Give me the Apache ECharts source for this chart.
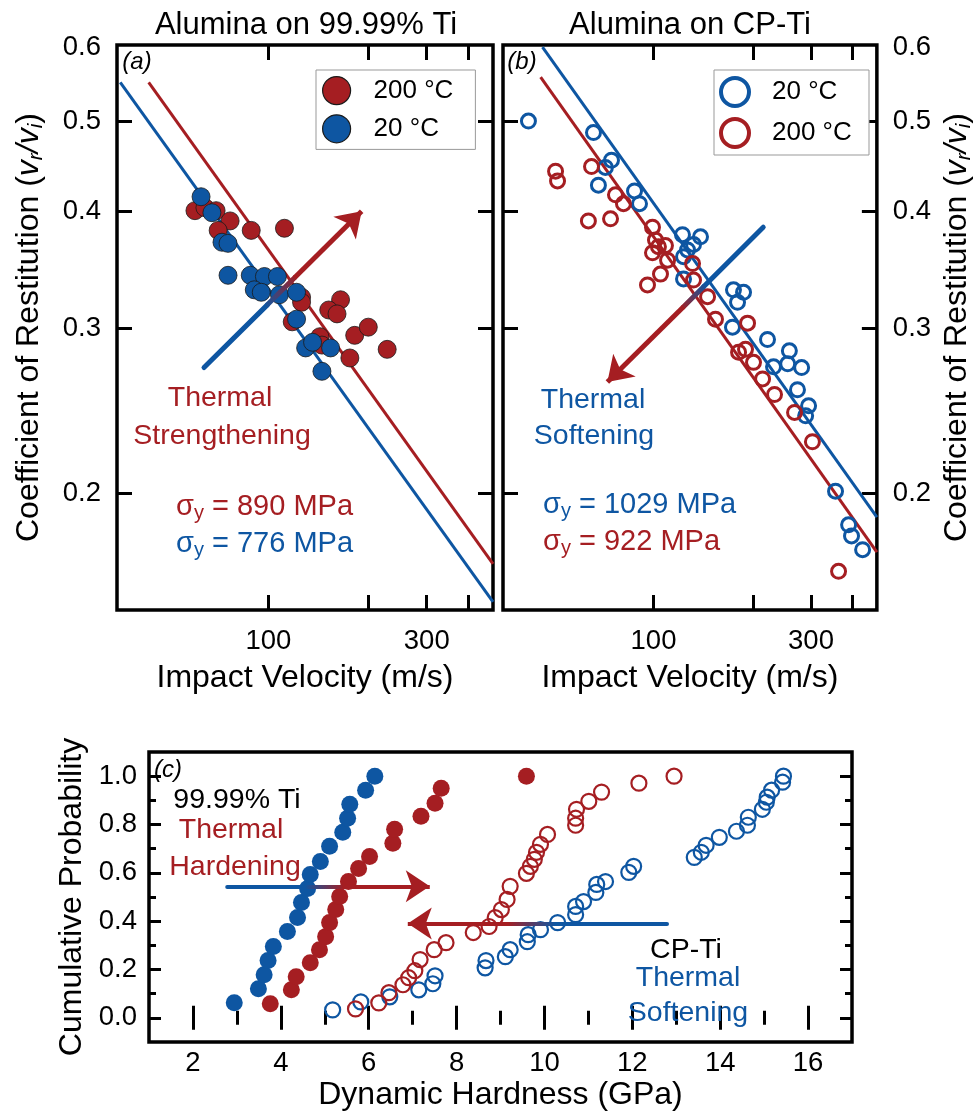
<!DOCTYPE html>
<html>
<head>
<meta charset="utf-8">
<script src="https://cdn.jsdelivr.net/npm/echarts@6.0.0/dist/echarts.min.js"></script>
<style>
  html, body { margin: 0; padding: 0; background: #fff; }
  #chart { width: 976px; height: 1114px; }
</style>
</head>
<body>
<div id="chart"></div>
<script>
const RED = '#A51E22';
const BLUE = '#0E56A2';
const FONT = '"Liberation Sans", Arial, Helvetica, sans-serif';

// (a) alumina on 99.99% Ti, filled markers
const tiVel200 = [60.1, 64.4, 69.6, 76.7, 70.6, 88.8, 111.8, 125.9, 125.9, 165, 152, 161, 118, 143, 145, 182, 200, 176, 228];
const tiCor200 = [0.401, 0.404, 0.401, 0.391, 0.382, 0.382, 0.384, 0.324, 0.320, 0.322, 0.314, 0.311, 0.305, 0.294, 0.288, 0.295, 0.301, 0.279, 0.285];
const tiVel20 = [62.7, 67.6, 72.5, 75.6, 75.6, 88.2, 97.3, 106.5, 90.7, 95.2, 108, 121.6, 121.6, 129.5, 135.9, 154, 145];
const tiCor20 = [0.415, 0.399, 0.371, 0.370, 0.342, 0.342, 0.341, 0.341, 0.330, 0.328, 0.326, 0.328, 0.307, 0.286, 0.290, 0.286, 0.270];
// fitted lines (end points)
const tiFit20Vel = [35.8, 475];
const tiFit20Cor = [0.55, 0.153];
const tiFit200Vel = [43.6, 475];
const tiFit200Cor = [0.55, 0.168];

// (b) alumina on CP-Ti, open markers
const cpVel20 = [41.8, 65.8, 74.6, 71.5, 68.1, 87.6, 90.7, 122.4, 138.8, 132.2, 126.8, 123.3, 123.3, 174.7, 187.4, 179.7, 173.5, 221.5, 258, 231, 255, 281, 273, 295, 289, 356, 390, 398, 430];
const cpCor20 = [0.5, 0.486, 0.454, 0.446, 0.427, 0.421, 0.408, 0.378, 0.376, 0.369, 0.364, 0.358, 0.339, 0.330, 0.328, 0.320, 0.301, 0.292, 0.284, 0.273, 0.275, 0.2725, 0.258, 0.248, 0.242, 0.201, 0.185, 0.180, 0.174];
const cpVel200 = [50.5, 51.2, 64.9, 63.5, 74.1, 76.7, 81.1, 99.3, 101.4, 99.3, 103.5, 108.7, 110.3, 105, 95.9, 131.3, 132.2, 145.8, 154.1, 192.7, 181, 190, 200.9, 214, 232.6, 267.5, 303, 363.6];
const cpCor200 = [0.442, 0.4315, 0.447, 0.391, 0.393, 0.417, 0.408, 0.385, 0.373, 0.3615, 0.367, 0.368, 0.355, 0.343, 0.334, 0.352, 0.338, 0.3245, 0.307, 0.304, 0.283, 0.285, 0.276, 0.265, 0.255, 0.244, 0.227, 0.165];
const cpFit20Vel = [46.1, 475];
const cpFit20Cor = [0.600, 0.1885];
const cpFit200Vel = [45.5, 475];
const cpFit200Cor = [0.557, 0.173];

// (c) cumulative probability of dynamic hardness
const hardTi20 = [2.94, 3.49, 3.62, 3.71, 3.83, 4.15, 4.38, 4.47, 4.61, 4.67, 4.90, 5.11, 5.41, 5.52, 5.57, 5.93, 6.14];
const probTi20 = [0.062, 0.120, 0.178, 0.237, 0.295, 0.357, 0.415, 0.477, 0.535, 0.593, 0.647, 0.710, 0.768, 0.826, 0.884, 0.942, 1.0];
const hardTi200 = [3.76, 4.24, 4.35, 4.67, 4.88, 5.02, 5.11, 5.25, 5.34, 5.54, 5.77, 6.02, 6.55, 6.59, 7.19, 7.51, 7.65, 9.59];
const probTi200 = [0.058, 0.116, 0.170, 0.228, 0.282, 0.336, 0.394, 0.448, 0.502, 0.564, 0.618, 0.668, 0.722, 0.780, 0.834, 0.888, 0.950, 1.0];
const hardCp20 = [5.18, 5.82, 6.48, 7.14, 7.46, 7.51, 8.65, 8.67, 9.11, 9.22, 9.61, 9.63, 9.91, 10.30, 10.71, 10.71, 10.89, 11.17, 11.19, 11.39, 11.92, 12.03, 13.41, 13.57, 13.68, 13.98, 14.37, 14.62, 14.64, 14.96, 15.05, 15.07, 15.17, 15.42, 15.44];
const probCp20 = [0.033, 0.066, 0.087, 0.116, 0.141, 0.174, 0.207, 0.237, 0.253, 0.282, 0.315, 0.344, 0.365, 0.394, 0.427, 0.461, 0.481, 0.519, 0.552, 0.564, 0.602, 0.627, 0.664, 0.685, 0.714, 0.747, 0.772, 0.797, 0.830, 0.863, 0.892, 0.913, 0.942, 0.975, 1.0];
const hardCp200 = [5.70, 6.23, 6.46, 6.78, 6.91, 7.05, 7.17, 7.49, 7.76, 8.38, 8.74, 8.88, 9.02, 9.15, 9.22, 9.59, 9.68, 9.77, 9.82, 9.91, 10.07, 10.71, 10.71, 10.73, 11.01, 11.30, 12.15, 12.95];
const probCp200 = [0.037, 0.062, 0.104, 0.137, 0.166, 0.195, 0.241, 0.282, 0.311, 0.353, 0.378, 0.415, 0.448, 0.490, 0.544, 0.598, 0.627, 0.656, 0.685, 0.718, 0.759, 0.797, 0.826, 0.863, 0.896, 0.934, 0.971, 1.0];

// annotation arrows: start (blue), blend start, blend end, tip (red)
const arrowA = [[64.0, 0.2725], [99.3, 0.318], [119.9, 0.340], [191, 0.4005]];
const arrowB = [[215, 0.385], [141.8, 0.3325], [123.3, 0.3165], [72.5, 0.263]];
const arrowC1 = [[2.78, 0.544], [4.6, 0.544], [5.4, 0.544], [7.39, 0.544]];
const arrowC2 = [[12.79, 0.39], [10.2, 0.39], [9.2, 0.39], [6.89, 0.39]];

// ticks
const velTicks = [100, 200, 300, 400];
const velLabels = [100, 300];
const corTicks = [0.2, 0.3, 0.4, 0.5];
const corLabels = [0.2, 0.3, 0.4, 0.5, 0.6];
const hardTicks = [2, 4, 6, 8, 10, 12, 14, 16];
const hardMinor = [3, 5, 7, 9, 11, 13, 15];
const probTicks = [0, 0.2, 0.4, 0.6, 0.8, 1.0];
const probMinor = [0.1, 0.3, 0.5, 0.7, 0.9];

const pairs = (xs, ys) => xs.map((x, i) => [x, ys[i]]);

const frame = { show: true, borderColor: '#000', borderWidth: 3.5, backgroundColor: 'transparent' };

const labelStyle = { color: '#000', fontSize: 27.5, fontFamily: FONT };
const nameStyle = { color: '#000', fontSize: 32, fontFamily: FONT };

const corName = '{n|Coefficient of Restitution (}{i|v}{s|r}{i|/v}{s|i}{n|)}';
const corRich = {
    n: { fontSize: 32, fontFamily: FONT, color: '#000', verticalAlign: 'top', lineHeight: 34 },
    i: { fontSize: 32, fontFamily: FONT, color: '#000', fontStyle: 'italic', verticalAlign: 'top', lineHeight: 34 },
    s: { fontSize: 21, fontFamily: FONT, color: '#000', fontStyle: 'italic', verticalAlign: 'bottom', lineHeight: 21, padding: [19, 0, 0, 0] }
};

// one axis; labels/name only where given
function axis(base, tickValues, tickLen, labels) {
    const a = Object.assign({
        axisLine: { show: false },
        splitLine: { show: false },
        axisTick: {
            show: true, inside: true, length: tickLen, customValues: tickValues,
            lineStyle: { color: '#000', width: 3 }
        },
        axisLabel: { show: false }
    }, base);
    if (labels) {
        a.axisLabel = Object.assign({ show: true, customValues: labels.values, margin: labels.margin }, labelStyle,
            { formatter: labels.fmt });
    }
    return a;
}

const velRange = { type: 'log', logBase: 10, min: 35, max: 475 };
const corRange = { type: 'log', logBase: 10, min: 0.15, max: 0.603 };
const hardRange = { type: 'value', min: 1, max: 17 };
const probRange = { type: 'value', min: -0.1, max: 1.1 };

const velFmt = v => String(Math.round(v));
const oneDec = v => Number(v).toFixed(1);

const xAxes = [
    axis(Object.assign({ gridIndex: 0, position: 'bottom', name: 'Impact Velocity (m/s)', nameLocation: 'middle',
        nameGap: 52, nameTextStyle: nameStyle }, velRange), velTicks, 15, { values: velLabels, margin: 17, fmt: velFmt }),
    axis(Object.assign({ gridIndex: 0, position: 'top' }, velRange), velTicks, 15),
    axis(Object.assign({ gridIndex: 1, position: 'bottom', name: 'Impact Velocity (m/s)', nameLocation: 'middle',
        nameGap: 52, nameTextStyle: nameStyle }, velRange), velTicks, 15, { values: velLabels, margin: 17, fmt: velFmt }),
    axis(Object.assign({ gridIndex: 1, position: 'top' }, velRange), velTicks, 15),
    axis(Object.assign({ gridIndex: 2, position: 'bottom', name: 'Dynamic Hardness (GPa)', nameLocation: 'middle',
        nameGap: 37, nameTextStyle: nameStyle }, hardRange), hardTicks, 12, { values: hardTicks, margin: 7, fmt: v => String(v) }),
    axis(Object.assign({ gridIndex: 2, position: 'top' }, hardRange), hardTicks, 12),
    axis(Object.assign({ gridIndex: 2, position: 'bottom' }, hardRange), hardMinor, 7),
    axis(Object.assign({ gridIndex: 2, position: 'top' }, hardRange), hardMinor, 7)
];

const yAxes = [
    axis(Object.assign({ gridIndex: 0, position: 'left', name: corName, nameLocation: 'middle', nameRotate: 90,
        nameGap: 70, nameTextStyle: Object.assign({ rich: corRich }, nameStyle) }, corRange),
        corTicks, 15, { values: corLabels, margin: 16, fmt: oneDec }),
    axis(Object.assign({ gridIndex: 0, position: 'right' }, corRange), corTicks, 15),
    axis(Object.assign({ gridIndex: 1, position: 'left' }, corRange), corTicks, 15),
    axis(Object.assign({ gridIndex: 1, position: 'right', name: corName, nameLocation: 'middle', nameRotate: 90,
        nameGap: 60, nameTextStyle: Object.assign({ rich: corRich }, nameStyle) }, corRange),
        corTicks, 15, { values: corLabels, margin: 16, fmt: oneDec }),
    axis(Object.assign({ gridIndex: 2, position: 'left', name: 'Cumulative Probability', nameLocation: 'middle',
        nameGap: 58, nameTextStyle: nameStyle }, probRange), probTicks, 12, { values: probTicks, margin: 12, fmt: oneDec }),
    axis(Object.assign({ gridIndex: 2, position: 'right' }, probRange), probTicks, 12),
    axis(Object.assign({ gridIndex: 2, position: 'left' }, probRange), probMinor, 7),
    axis(Object.assign({ gridIndex: 2, position: 'right' }, probRange), probMinor, 7)
];

function fitLine(xs, ys, color, xi, yi) {
    return {
        type: 'line', xAxisIndex: xi, yAxisIndex: yi, data: pairs(xs, ys),
        symbol: 'none', silent: true, z: 1,
        lineStyle: { color: color, width: 3 }
    };
}

function dots(name, xs, ys, color, xi, yi, open, size) {
    return {
        type: 'scatter', name: name, xAxisIndex: xi, yAxisIndex: yi, data: pairs(xs, ys),
        symbol: 'circle', symbolSize: size, silent: true, z: 3,
        itemStyle: open
            ? { color: 'rgba(0,0,0,0)', borderColor: color, borderWidth: open, opacity: 1 }
            : { color: color, borderColor: size > 17 ? '#1a1a1a' : color, borderWidth: size > 17 ? 0.8 : 0, opacity: 1 }
    };
}

// gradient direction (x0,y0,x1,y1) in the segment's box
function arrow(pts, xi, yi, dir, width) {
    const grad = new echarts.graphic.LinearGradient(dir[0], dir[1], dir[2], dir[3],
        [{ offset: 0, color: BLUE }, { offset: 1, color: RED }]);
    return [{
        type: 'lines', coordinateSystem: 'cartesian2d', xAxisIndex: xi, yAxisIndex: yi,
        silent: true, z: 6, symbol: 'none',
        lineStyle: { width: width, opacity: 1, cap: 'round' },
        data: [
            { coords: [pts[0], pts[1]], lineStyle: { color: BLUE, width: width, opacity: 1, cap: 'round' } },
            { coords: [pts[1], pts[2]], lineStyle: { color: grad, width: width, opacity: 1 } }
        ]
    }, {
        type: 'lines', coordinateSystem: 'cartesian2d', xAxisIndex: xi, yAxisIndex: yi,
        silent: true, z: 6, symbol: ['none', 'arrow'], symbolSize: [20, 24],
        lineStyle: { color: RED, width: width, opacity: 1 },
        data: [{ coords: [pts[2], pts[3]] }]
    }];
}

const series = [
    fitLine(tiFit20Vel, tiFit20Cor, BLUE, 0, 0),
    fitLine(tiFit200Vel, tiFit200Cor, RED, 0, 0),
    dots('200 °C', tiVel200, tiCor200, RED, 0, 0, 0, 18),
    dots('20 °C', tiVel20, tiCor20, BLUE, 0, 0, 0, 18),
    ...arrow(arrowA, 0, 0, [0, 1, 1, 0], 5),

    fitLine(cpFit20Vel, cpFit20Cor, BLUE, 2, 2),
    fitLine(cpFit200Vel, cpFit200Cor, RED, 2, 2),
    dots('20 °C ', cpVel20, cpCor20, BLUE, 2, 2, 3, 14),
    dots('200 °C ', cpVel200, cpCor200, RED, 2, 2, 3, 14),
    ...arrow(arrowB, 2, 2, [1, 0, 0, 1], 5),

    dots('ti20', hardTi20, probTi20, BLUE, 4, 4, 0, 17),
    dots('ti200', hardTi200, probTi200, RED, 4, 4, 0, 17),
    dots('cp20', hardCp20, probCp20, BLUE, 4, 4, 2.2, 15),
    dots('cp200', hardCp200, probCp200, RED, 4, 4, 2.2, 15),
    ...arrow(arrowC1, 4, 4, [0, 0, 1, 0], 4),
    ...arrow(arrowC2, 4, 4, [1, 0, 0, 0], 4)
];

const legendBase = {
    orient: 'vertical', icon: 'circle', itemWidth: 28, itemHeight: 28, itemGap: 9,
    borderColor: '#999', borderWidth: 1, backgroundColor: '#fff', selectedMode: false,
    textStyle: { color: '#000', fontSize: 26, fontFamily: FONT, padding: [0, 0, 0, 18] }
};

function txt(x, y, text, fill, size, italic) {
    return {
        type: 'text', x: x, y: y, silent: true, z: 20,
        style: {
            text: text, fill: fill, font: (italic ? 'italic ' : '') + size + 'px ' + FONT,
            align: 'center', verticalAlign: 'middle', textAlign: 'center', textVerticalAlign: 'middle'
        }
    };
}

function sigma(x, y, value, fill) {
    return {
        type: 'text', x: x, y: y, silent: true, z: 20,
        style: {
            text: '{a|σ}{b|y}{a| = ' + value + ' MPa}',
            align: 'left', verticalAlign: 'middle', textAlign: 'left', textVerticalAlign: 'middle',
            fill: fill,
            rich: {
                a: { font: '29px ' + FONT, fill: fill, verticalAlign: 'top', lineHeight: 31 },
                b: { font: '20px ' + FONT, fill: fill, verticalAlign: 'bottom', lineHeight: 20, padding: [17, 0, 0, 0] }
            }
        }
    };
}

const graphic = [
    txt(306, 25, 'Alumina on 99.99% Ti', '#000', 31),
    txt(690, 25, 'Alumina on CP-Ti', '#000', 31),
    txt(137, 62, '(a)', '#000', 24, true),
    txt(522, 62, '(b)', '#000', 24, true),
    txt(168, 770, '(c)', '#000', 24, true),
    txt(220, 398, 'Thermal', RED, 28.5),
    txt(222, 436, 'Strengthening', RED, 28.5),
    sigma(176, 508, '890', RED),
    sigma(176, 545, '776', BLUE),
    txt(593, 400, 'Thermal', BLUE, 28.5),
    txt(594, 436, 'Softening', BLUE, 28.5),
    sigma(543, 506, '1029', BLUE),
    sigma(543, 543, '922', RED),
    txt(237, 800, '99.99% Ti', '#000', 28.5),
    txt(231, 830, 'Thermal', RED, 28.5),
    txt(235, 867, 'Hardening', RED, 28.5),
    txt(686, 950, 'CP-Ti', '#000', 28.5),
    txt(688, 978, 'Thermal', BLUE, 28.5),
    txt(688, 1013, 'Softening', BLUE, 28.5)
];

const chart = echarts.init(document.getElementById('chart'), null, { renderer: 'canvas' });
chart.setOption({
    animation: false,
    backgroundColor: '#fff',
    textStyle: { fontFamily: FONT },
    grid: [
        Object.assign({ left: 117, top: 45, width: 376, height: 565 }, frame),
        Object.assign({ left: 503, top: 45, width: 374, height: 565 }, frame),
        Object.assign({ left: 149, top: 752, width: 703, height: 290 }, frame)
    ],
    legend: [
        Object.assign({}, legendBase, { data: ['200 °C', '20 °C'], left: 316, top: 70, padding: [6, 22, 6, 6], itemStyle: { borderWidth: 1.2 } }),
        Object.assign({}, legendBase, { data: ['20 °C ', '200 °C '], left: 714, top: 70, padding: [6, 10, 6, 5], itemStyle: { borderWidth: 4 } })
    ],
    xAxis: xAxes,
    yAxis: yAxes,
    series: series,
    graphic: graphic
});
</script>
</body>
</html>
